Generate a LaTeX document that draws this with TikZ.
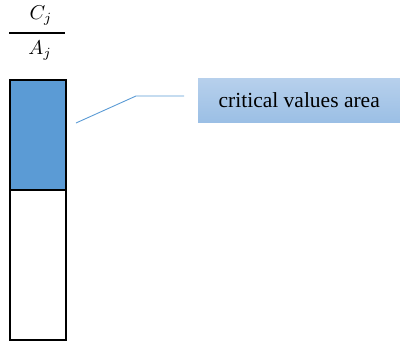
\documentclass[tikz,border=0pt]{standalone}
\usepackage{fontspec}
\setmainfont{Liberation Serif}
\usetikzlibrary{positioning}

\definecolor{barblue}{HTML}{5B9BD5}
\definecolor{boxtop}{HTML}{B7D0EC}
\definecolor{boxbot}{HTML}{9BBFE5}

\newcommand{\fracpart}[1]{\scalebox{2}{$#1$}}

\begin{document}
\begin{tikzpicture}[x=1pt,y=-1pt,
    bar_part/.style={draw,line width=2pt,minimum width=56pt,inner sep=0pt,outer sep=0pt},
    area_box/.style={top color=boxtop,bottom color=boxbot,minimum width=202pt,minimum height=44pt,inner sep=0pt,font=\fontsize{21.5}{25}\selectfont},
    frac_line/.style={line width=1.5pt}]

    \useasboundingbox (0,0) rectangle (400,341);

    % fraction above the bar
    \node (c) at (41,16) {\fracpart{C_j}};
    \node (a) at (40,51) {\fracpart{A_j}};
    \draw[frac_line] (9,33) -- (65,33);

    % the bar
    \node[bar_part,fill=barblue,minimum height=110pt,anchor=north west] (upper) at (10,80) {};
    \node[bar_part,fill=white,minimum height=150pt,anchor=north west] (lower) at (upper.south west) {};

    % label and callout
    \node[area_box,anchor=north west] (crit) at (198,78) {critical values area};
    \coordinate (tip) at (76,123);
    \coordinate (elbow) at (136,96);
    \coordinate (tail) at (184,96);
    \draw[barblue,line width=0.9pt] (tip) -- (elbow) -- (tail);
\end{tikzpicture}
\end{document}
